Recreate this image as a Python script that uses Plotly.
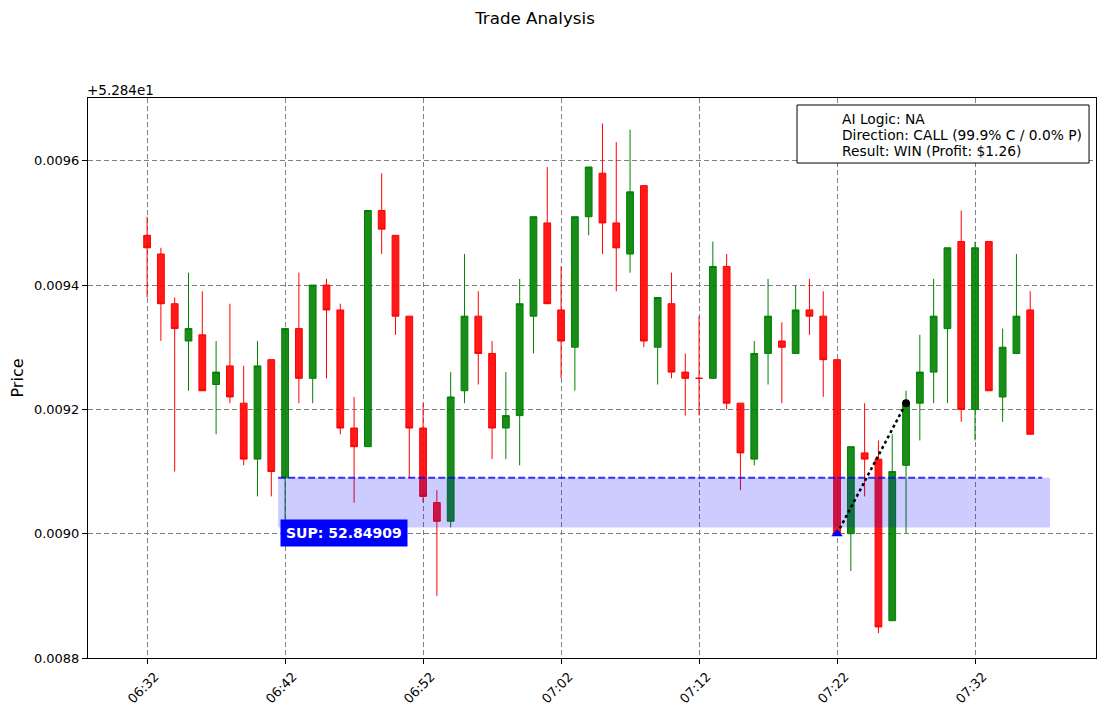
import pandas as pd
import plotly.graph_objects as go

# minute candles, 06:32 -> 07:36
times = pd.date_range("2024-01-01 06:32", periods=65, freq="min")

opens = [52.84948, 52.84945, 52.84937, 52.84931, 52.84932, 52.84924, 52.84927, 52.84921, 52.84912, 52.84928,
         52.84909, 52.84933, 52.84925, 52.84940, 52.84936, 52.84917, 52.84914, 52.84952, 52.84948, 52.84935,
         52.84917, 52.84905, 52.84902, 52.84923, 52.84935, 52.84929, 52.84917, 52.84919, 52.84935, 52.84950,
         52.84936, 52.84930, 52.84951, 52.84958, 52.84950, 52.84945, 52.84956, 52.84930, 52.84937, 52.84926,
         52.84925, 52.84925, 52.84943, 52.84921, 52.84912, 52.84929, 52.84931, 52.84929, 52.84936, 52.84935,
         52.84928, 52.84900, 52.84913, 52.84912, 52.84886, 52.84911, 52.84921, 52.84926, 52.84933, 52.84947,
         52.84920, 52.84947, 52.84922, 52.84929, 52.84936]
highs = [52.84951, 52.84946, 52.84938, 52.84942, 52.84939, 52.84931, 52.84937, 52.84927, 52.84931, 52.84928,
         52.84933, 52.84942, 52.84940, 52.84941, 52.84937, 52.84922, 52.84952, 52.84958, 52.84948, 52.84935,
         52.84921, 52.84907, 52.84926, 52.84945, 52.84939, 52.84931, 52.84926, 52.84941, 52.84951, 52.84959,
         52.84943, 52.84951, 52.84959, 52.84966, 52.84963, 52.84965, 52.84956, 52.84938, 52.84942, 52.84929,
         52.84935, 52.84947, 52.84945, 52.84921, 52.84931, 52.84941, 52.84934, 52.84940, 52.84941, 52.84939,
         52.84928, 52.84914, 52.84921, 52.84915, 52.84916, 52.84923, 52.84932, 52.84941, 52.84946, 52.84952,
         52.84947, 52.84947, 52.84933, 52.84945, 52.84939]
lows = [52.84938, 52.84931, 52.84910, 52.84923, 52.84923, 52.84916, 52.84921, 52.84911, 52.84906, 52.84906,
        52.84902, 52.84921, 52.84921, 52.84925, 52.84916, 52.84905, 52.84914, 52.84945, 52.84932, 52.84909,
        52.84905, 52.84890, 52.84901, 52.84921, 52.84924, 52.84912, 52.84912, 52.84911, 52.84929, 52.84937,
        52.84925, 52.84923, 52.84948, 52.84945, 52.84939, 52.84942, 52.84930, 52.84924, 52.84925, 52.84919,
        52.84919, 52.84925, 52.84920, 52.84907, 52.84911, 52.84924, 52.84921, 52.84929, 52.84932, 52.84922,
        52.84900, 52.84894, 52.84906, 52.84884, 52.84886, 52.84900, 52.84915, 52.84921, 52.84921, 52.84918,
        52.84915, 52.84923, 52.84918, 52.84929, 52.84916]
closes = [52.84946, 52.84937, 52.84933, 52.84933, 52.84923, 52.84926, 52.84922, 52.84912, 52.84927, 52.84910,
          52.84933, 52.84925, 52.84940, 52.84936, 52.84917, 52.84914, 52.84952, 52.84949, 52.84935, 52.84917,
          52.84906, 52.84902, 52.84922, 52.84935, 52.84929, 52.84917, 52.84919, 52.84937, 52.84951, 52.84937,
          52.84931, 52.84951, 52.84959, 52.84950, 52.84946, 52.84955, 52.84931, 52.84938, 52.84926, 52.84925,
          52.84925, 52.84943, 52.84921, 52.84913, 52.84929, 52.84935, 52.84930, 52.84936, 52.84935, 52.84928,
          52.84900, 52.84914, 52.84912, 52.84885, 52.84910, 52.84921, 52.84926, 52.84935, 52.84946, 52.84920,
          52.84946, 52.84923, 52.84930, 52.84935, 52.84916]

# support zone
sup_level = 52.84909
zone_low = 52.84901
zone_start = "2024-01-01 06:41:30"
zone_end = "2024-01-01 07:37:26"
line_end = "2024-01-01 07:36:52"

# trade
entry_time = "2024-01-01 07:22"
entry_price = 52.84900
exit_time = "2024-01-01 07:27"
exit_price = 52.84921

info_lines = ["AI Logic: NA", "Direction: CALL (99.9% C / 0.0% P)", "Result: WIN (Profit: $1.26)"]

y_ticks = [52.8488, 52.8490, 52.8492, 52.8494, 52.8496]
y_ticktext = ["0.0088", "0.0090", "0.0092", "0.0094", "0.0096"]

FONT = "DejaVu Sans"
W, H = 1097, 708   # page has an 8px body margin

fig = go.Figure()

fig.add_trace(go.Candlestick(
    x=times, open=opens, high=highs, low=lows, close=closes,
    increasing=dict(line=dict(color="green", width=1), fillcolor="rgba(0,128,0,0.9)"),
    decreasing=dict(line=dict(color="red", width=1), fillcolor="rgba(255,0,0,0.9)"),
    whiskerwidth=0, showlegend=False,
))

# support zone over the candles
fig.add_trace(go.Scatter(
    x=[zone_start, zone_end, zone_end, zone_start, zone_start],
    y=[zone_low, zone_low, sup_level, sup_level, zone_low],
    mode="lines", fill="toself", fillcolor="rgba(0,0,255,0.2)",
    line=dict(width=0), hoverinfo="skip", showlegend=False,
))
fig.add_trace(go.Scatter(
    x=[zone_start, line_end], y=[sup_level, sup_level], mode="lines",
    line=dict(color="rgba(0,0,255,0.8)", width=2, dash="7px,3px"),
    hoverinfo="skip", showlegend=False,
))

# trade path
fig.add_trace(go.Scatter(
    x=[entry_time, exit_time], y=[entry_price, exit_price], mode="lines",
    line=dict(color="black", width=2.5, dash="dot"), showlegend=False,
))
fig.add_trace(go.Scatter(
    x=[entry_time], y=[entry_price], mode="markers",
    marker=dict(symbol="triangle-up", color="blue", size=10), showlegend=False,
))
fig.add_trace(go.Scatter(
    x=[exit_time], y=[exit_price], mode="markers",
    marker=dict(symbol="circle", color="black", size=8), showlegend=False,
))

fig.add_annotation(x=zone_start, y=zone_low, xref="x", yref="y",
                   text="<b>SUP: %.5f</b>" % sup_level, showarrow=False,
                   xanchor="left", yanchor="top", yshift=8, xshift=2,
                   font=dict(family=FONT, size=14, color="white"),
                   bgcolor="blue", borderpad=5)

# info box (legend-like)
fig.add_shape(type="rect", xref="paper", yref="paper",
              x0=0.7034, x1=0.9931, y0=0.8839, y1=0.9875,
              fillcolor="white", line=dict(color="black", width=1), layer="above")
for i, t in enumerate(info_lines):
    fig.add_annotation(x=0.746, y=0.9625 - i * 0.0282, xref="paper", yref="paper",
                       text=t, showarrow=False, xanchor="left", yanchor="middle",
                       font=dict(family=FONT, size=13.8, color="black"))

# offset text like matplotlib
fig.add_annotation(x=0, y=1, xref="paper", yref="paper", text="+5.284e1",
                   showarrow=False, xanchor="left", yanchor="bottom",
                   font=dict(family=FONT, size=13.5, color="black"), xshift=-3, yshift=-2)

fig.update_layout(
    width=W, height=H, autosize=False,
    margin=dict(l=80, r=9, t=90, b=58),
    paper_bgcolor="white", plot_bgcolor="white",
    font=dict(family=FONT, size=13, color="black"),
    title=dict(text="Trade Analysis", x=527 / W, xanchor="center", xref="container",
               y=1 - 10 / H, yanchor="middle", yref="container",
               font=dict(family=FONT, size=16.7)),
    showlegend=False,
)

fig.update_xaxes(
    rangeslider_visible=False, type="date",
    range=["2024-01-01 06:27:43", "2024-01-01 07:40:46"],
    tick0="2024-01-01 06:32", dtick=600000, tickformat="%H:%M", tickangle=-45,
    ticklabelshift=8,
    showgrid=True, gridcolor="gray", griddash="5px,3px", gridwidth=1,
    showline=True, linecolor="black", linewidth=1, mirror=True,
    ticks="outside", ticklen=5, tickcolor="black", zeroline=False,
)
fig.update_yaxes(
    range=[52.8488, 52.849701],
    tickvals=y_ticks, ticktext=y_ticktext,
    title=dict(text="Price", standoff=6),
    showgrid=True, gridcolor="gray", griddash="5px,3px", gridwidth=1,
    showline=True, linecolor="black", linewidth=1, mirror=True,
    ticks="outside", ticklen=5, tickcolor="black", zeroline=False,
)

fig.write_html("out.html")
